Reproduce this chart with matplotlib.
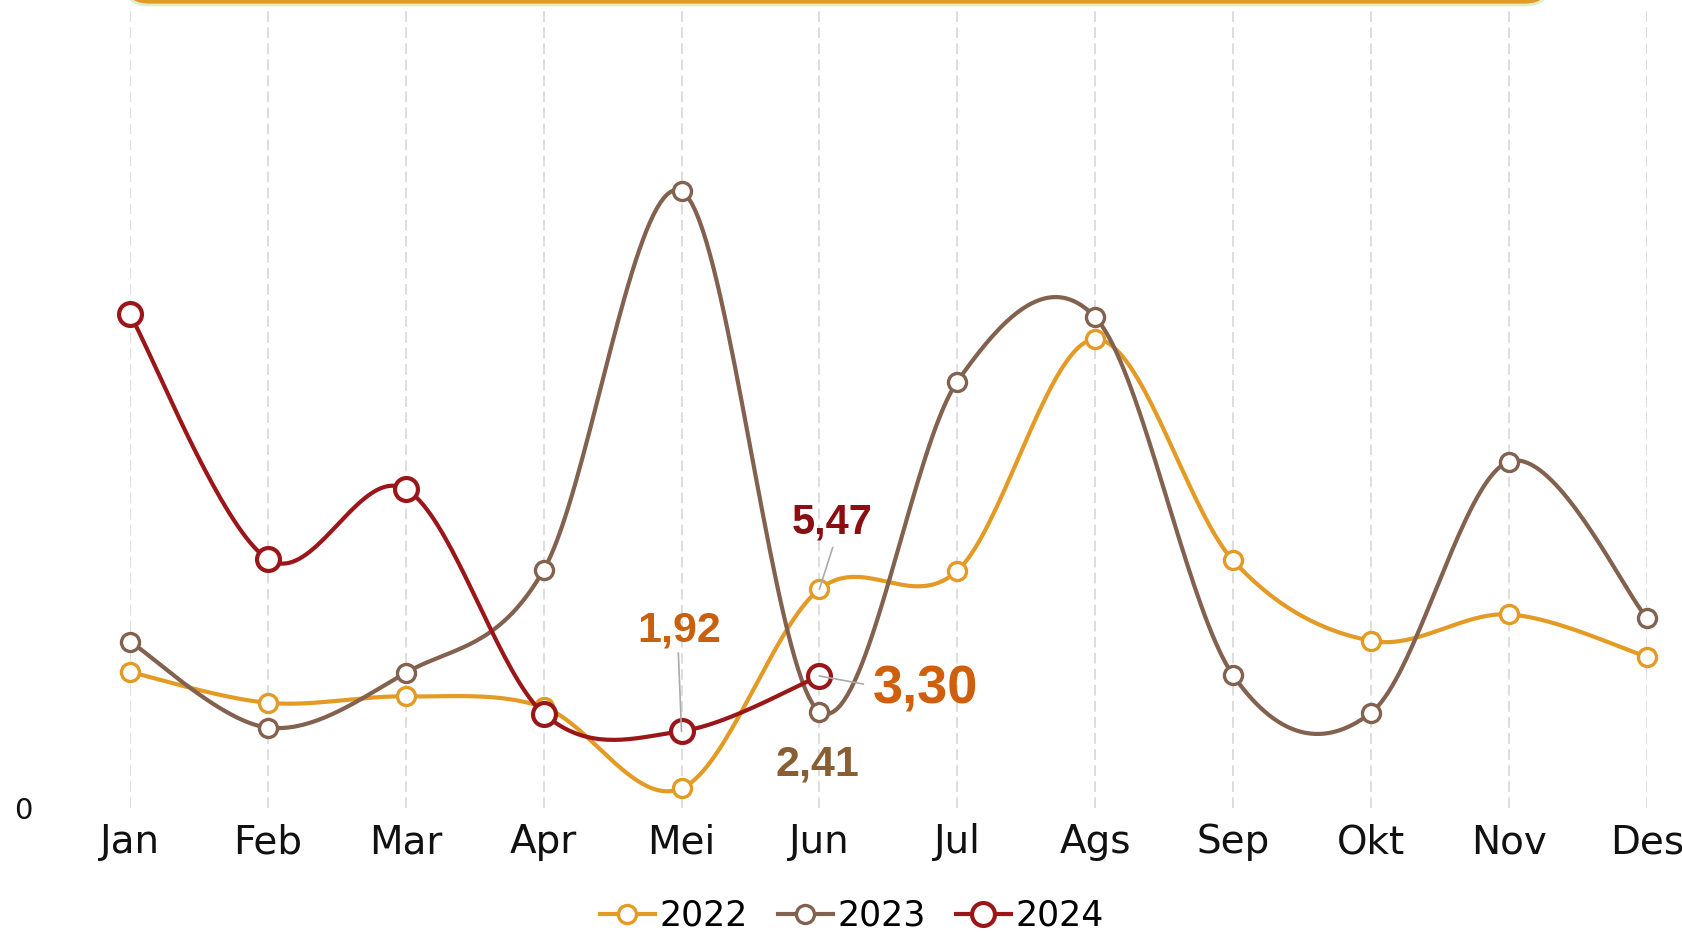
import numpy as np
import matplotlib
matplotlib.use("Agg")
import matplotlib.pyplot as plt
from matplotlib.lines import Line2D
from matplotlib.patches import FancyBboxPatch
from matplotlib.transforms import IdentityTransform

months = ["Jan", "Feb", "Mar", "Apr", "Mei", "Jun", "Jul", "Ags", "Sep", "Okt", "Nov", "Des"]
v2022 = [3.40, 2.63, 2.79, 2.52, 0.49, 5.47, 5.93, 11.72, 6.19, 4.18, 4.84, 3.78]
v2023 = [4.16, 2.01, 3.38, 5.95, 15.42, 2.41, 10.66, 12.27, 3.32, 2.38, 8.66, 4.76]
v2024 = [12.34, 6.22, 7.97, 2.36, 1.92, 3.30]

# labelled points: (series values, month index, text, colour, size)
callouts = [(v2022, 5, "5,47", "#8A0F12", 30),
            (v2024, 4, "1,92", "#C8600E", 31),
            (v2024, 5, "3,30", "#CF5F0C", 39),
            (v2023, 5, "2,41", "#8A5E33", 31)]

C22, C23, C24 = "#E39B25", "#83614F", "#9A1619"

plt.rcParams.update({"font.family": "DejaVu Sans"})


def spline(vals, steps=40):
    """catmull-rom style cubic through the points (like the web chart's smooth lines)"""
    P = np.column_stack([np.arange(len(vals)), vals]).astype(float)
    n = len(P)
    xs, ys = [P[0, 0]], [P[0, 1]]
    t = np.linspace(0, 1, steps)[1:, None]
    for i in range(n - 1):
        p0, p1 = P[i], P[i + 1]
        prev = P[i - 1] if i > 0 else P[i]
        nxt = P[i + 2] if i + 2 < n else P[i + 1]
        c1 = p0 + (p1 - prev) / 6
        c2 = p1 - (nxt - p0) / 6
        b = (1 - t) ** 3 * p0 + 3 * (1 - t) ** 2 * t * c1 + 3 * (1 - t) * t ** 2 * c2 + t ** 3 * p1
        xs.extend(b[:, 0]); ys.extend(b[:, 1])
    return np.array(xs), np.array(ys)


fig = plt.figure(figsize=(16.83, 9.32), dpi=100)
ax = fig.add_axes([130 / 1683, 1 - 808 / 932, (1646.7 - 130) / 1683, 800 / 932])

series = [("2022", v2022, C22, 13, 2.4), ("2023", v2023, C23, 13, 2.4), ("2024", v2024, C24, 16.5, 3.0)]
handles = []
for k, (name, vals, c, ms, mew) in enumerate(series):
    sx, sy = spline(vals)
    ax.plot(sx, sy, color=c, lw=3.0, zorder=3 + k, solid_capstyle="round", clip_on=False)
    ax.plot(range(len(vals)), vals, "o", ms=ms, mfc="white", mec=c, mew=mew, zorder=3 + k, clip_on=False)
    handles.append(Line2D([], [], color=c, lw=3.0, marker="o", ms=ms, mfc="white", mec=c, mew=mew, label=name))

# value callouts with grey leader lines
lab_pos = {"5,47": (5.095, 6.87, "center"), "1,92": (3.982, 4.16, "center"),
           "3,30": (5.387, 2.62, "left"), "2,41": (4.983, 0.825, "center")}
lead_from = {"5,47": (5.096, 6.51), "1,92": (3.977, 3.87), "3,30": (5.318, 3.10)}
for vals, i, txt, c, fs in callouts:
    tx, ty, ha = lab_pos[txt]
    ax.text(tx, ty, txt, color=c, fontsize=fs, fontweight="bold", family="Liberation Sans",
            ha=ha, va="baseline", zorder=10)
    if txt in lead_from:
        lx, ly = lead_from[txt]
        ax.plot([lx, i], [ly, vals[i]], color="#aaaaaa", lw=1.2, zorder=9)

ax.set_xlim(0, 11)
ax.set_ylim(0, 20)
ax.set_xticks(range(12))
ax.set_xticklabels(months, fontsize=28)
ax.set_yticks([0])
ax.set_yticklabels(["0"], fontsize=21)
ax.tick_params(axis="x", length=0, pad=11, colors="#111111")
ax.tick_params(axis="y", length=0, pad=70, colors="#111111")
for s in ax.spines.values():
    s.set_visible(False)
ax.grid(axis="x", color="#d4d4d4", lw=1.1, ls=(0, (7, 3.5)))
ax.set_axisbelow(True)

fig.legend(handles=handles, loc="center", bbox_to_anchor=(0.506, 0.0172), ncol=3, frameon=False,
           fontsize=25, handlelength=1.6, handletextpad=0.12, columnspacing=0.86, borderpad=0)

# header box peeking in at the top edge
fig.add_artist(FancyBboxPatch((123, 927), 1428, 80, boxstyle="round,pad=0,rounding_size=26",
                              transform=IdentityTransform(), fc="#E39A28", ec="#DCEFC9", lw=2,
                              zorder=20))

fig.savefig("out.png", dpi=100)
